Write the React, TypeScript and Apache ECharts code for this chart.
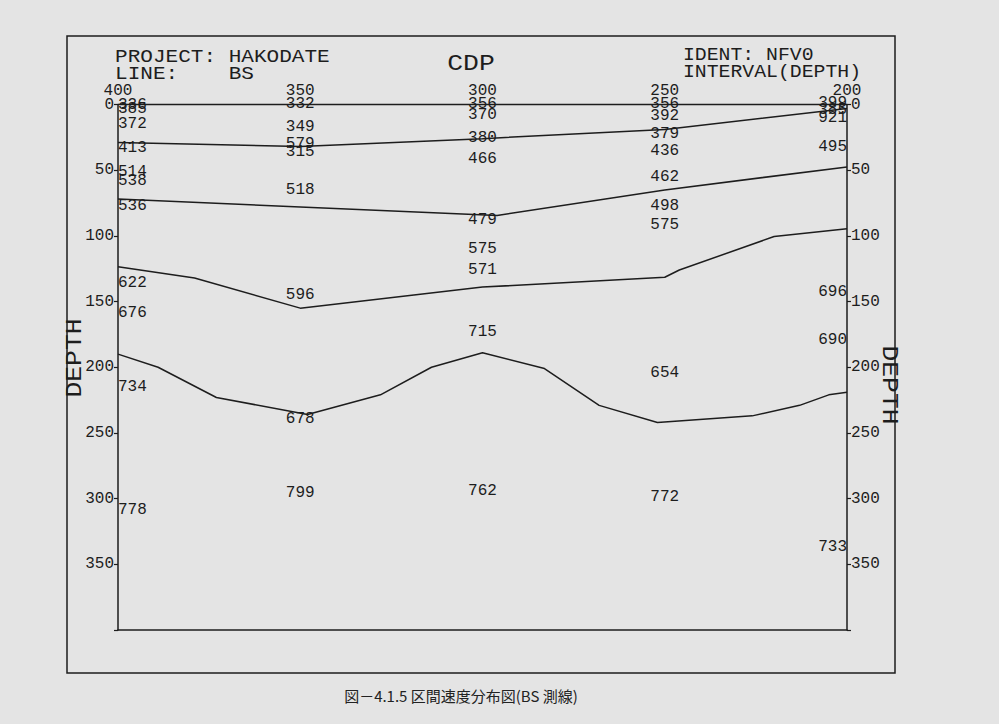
import React, { useEffect, useRef } from "react";
import * as echarts from "echarts";

// CDP (horizontal axis, decreasing to the right) and depth ranges
const cdpMin = 200;
const cdpMax = 400;
const depthMin = 0;
const depthMax = 400;

// Horizons (CDP, depth)
const h1Cdp = [400, 350, 300, 250, 200];
const h1Depth = [0, 0, 0, 0, 0];

const h2Cdp = [400, 350, 300, 250, 200];
const h2Depth = [29, 32, 26, 19, 3];

const h3Cdp = [400, 350, 296, 250, 200];
const h3Depth = [72, 78, 84.5, 65, 47.5];

const h4Cdp = [400, 379, 350, 300, 250, 246, 220, 200];
const h4Depth = [123.5, 132, 155, 139, 131.5, 126, 100.5, 94.5];

const h5Cdp = [400, 389, 373, 348, 328, 314, 300, 283, 268, 252, 226, 213, 205, 200];
const h5Depth = [190, 200, 223, 236, 221, 200, 189, 201, 229, 242, 237, 229, 221, 219];

// Interval velocity annotations per CDP column
const vel400Depth = [0, 3.5, 15, 33, 51, 58.5, 77, 135.5, 159, 215, 309];
const vel400Text = ["336", "385", "372", "413", "514", "538", "536", "622", "676", "734", "778"];

const vel350Depth = [-0.5, 17.5, 30, 36, 65, 145, 239.5, 295.5];
const vel350Text = ["332", "349", "579", "315", "518", "596", "678", "799"];

const vel300Depth = [-0.5, 8, 25.5, 41.5, 88, 110, 126, 173.5, 294];
const vel300Text = ["356", "370", "380", "466", "479", "575", "571", "715", "762"];

const vel250Depth = [-0.2, 8.5, 22.5, 35.5, 55.5, 77, 92, 204.5, 298.5];
const vel250Text = ["356", "392", "379", "436", "462", "498", "575", "654", "772"];

const vel200Depth = [-1, 4, 10, 32.5, 143, 179.5, 337];
const vel200Text = ["399", "385", "921", "495", "696", "690", "733"];

const INK = "#1d1d1d";
const PAPER = "#e4e4e4";
const MONO = "'Liberation Mono', 'DejaVu Sans Mono', monospace";

function pairs(cdp: number[], depth: number[]) {
  return cdp.map((c, i) => [c, depth[i]]);
}

function velData(cdp: number, depths: number[], texts: string[]) {
  return depths.map((d, i) => ({ name: texts[i], value: [cdp, d] }));
}

export default function App() {
  const ref = useRef<HTMLDivElement>(null);

  useEffect(() => {
    if (!ref.current) return;
    const chart = echarts.init(ref.current, undefined, { renderer: "svg" });

    const horizons = [
      pairs(h1Cdp, h1Depth),
      pairs(h2Cdp, h2Depth),
      pairs(h3Cdp, h3Depth),
      pairs(h4Cdp, h4Depth),
      pairs(h5Cdp, h5Depth),
    ];

    const lineSeries = horizons.map((d) => ({
      type: "line",
      data: d,
      xAxisIndex: 0,
      yAxisIndex: 0,
      symbol: "none",
      showSymbol: false,
      silent: true,
      clip: false,
      lineStyle: { color: INK, width: 1.5 },
      z: 3,
    }));

    const labelSeries = (data: any[], align: string) => ({
      type: "scatter",
      data,
      xAxisIndex: 0,
      yAxisIndex: 0,
      symbol: "circle",
      symbolSize: 0,
      itemStyle: { color: INK, opacity: 1 },
      silent: true,
      clip: false,
      z: 4,
      label: {
        show: true,
        position: "inside",
        align,
        verticalAlign: "middle",
        formatter: "{b}",
        color: INK,
        opacity: 1,
        textBorderWidth: 0,
        fontFamily: MONO,
        fontSize: 16,
      },
    });

    const axisLabel = {
      fontFamily: MONO,
      fontSize: 16,
      color: INK,
    };

    const yAxisBase = {
      type: "value",
      min: depthMin,
      max: depthMax,
      interval: 50,
      inverse: true,
      axisLine: { show: true, onZero: false, lineStyle: { color: INK, width: 1.5 } },
      axisTick: { show: true, length: 4, lineStyle: { color: INK, width: 1.2 } },
      splitLine: { show: false },
      axisLabel: {
        ...axisLabel,
        margin: 4,
        formatter: (v: number) => (v === depthMax ? "" : String(v)),
      },
    };

    const text = (
      t: string,
      x: number,
      y: number,
      size: number,
      align: string,
      extra: any = {}
    ) => ({
      type: "text",
      x,
      y,
      silent: true,
      z: 10,
      ...extra,
      style: {
        text: t,
        fill: INK,
        fontFamily: MONO,
        fontSize: size,
        align,
        verticalAlign: "middle",
      },
    });

    chart.setOption({
      animation: false,
      backgroundColor: PAPER,
      grid: { left: 118, right: 152, top: 104.5, bottom: 94 },
      xAxis: [
        {
          type: "value",
          position: "top",
          min: cdpMin,
          max: cdpMax,
          interval: 50,
          inverse: true,
          axisLine: { show: false, onZero: false },
          axisTick: { show: false },
          splitLine: { show: false },
          axisLabel: { ...axisLabel, margin: 6 },
        },
        {
          type: "value",
          position: "bottom",
          min: cdpMin,
          max: cdpMax,
          interval: 50,
          inverse: true,
          axisLine: { show: true, onZero: false, lineStyle: { color: INK, width: 1.5 } },
          axisTick: { show: false },
          splitLine: { show: false },
          axisLabel: { show: false },
        },
      ],
      yAxis: [
        { ...yAxisBase, position: "left" },
        { ...yAxisBase, position: "right" },
      ],
      series: [
        ...lineSeries,
        labelSeries(velData(400, vel400Depth, vel400Text), "left"),
        labelSeries(velData(350, vel350Depth, vel350Text), "center"),
        labelSeries(velData(300, vel300Depth, vel300Text), "center"),
        labelSeries(velData(250, vel250Depth, vel250Text), "center"),
        labelSeries(velData(200, vel200Depth, vel200Text), "right"),
      ],
      graphic: [
        {
          type: "rect",
          silent: true,
          shape: { x: 67, y: 36, width: 828, height: 637 },
          style: { fill: "none", stroke: INK, lineWidth: 1.5 },
          z: 1,
        },
        text("PROJECT: HAKODATE", 115, 57, 18, "left", { scaleX: 1.17 }),
        text("LINE:    BS", 115, 74, 18, "left", { scaleX: 1.17 }),
        text("IDENT: NFV0", 683, 55, 18, "left", { scaleX: 1.1 }),
        text("INTERVAL(DEPTH)", 683, 72, 18, "left", { scaleX: 1.1 }),
        text("CDP", 471, 64, 22, "center", { scaleX: 1.2 }),
        text("DEPTH", 75, 358, 22, "center", { rotation: Math.PI / 2, scaleX: 1.2 }),
        text("DEPTH", 889, 385, 22, "center", { rotation: -Math.PI / 2, scaleX: 1.2 }),
        {
          type: "text",
          x: 461,
          y: 695,
          silent: true,
          style: {
            text: "図－4.1.5 区間速度分布図(BS 測線)",
            fill: "#222222",
            fontFamily: "'Noto Sans CJK JP', sans-serif",
            fontSize: 15,
            align: "center",
            verticalAlign: "middle",
          },
        },
      ],
    });

    return () => chart.dispose();
  }, []);

  return (
    <div
      ref={ref}
      style={{ position: "fixed", left: 0, top: 0, width: 999, height: 724 }}
    />
  );
}
